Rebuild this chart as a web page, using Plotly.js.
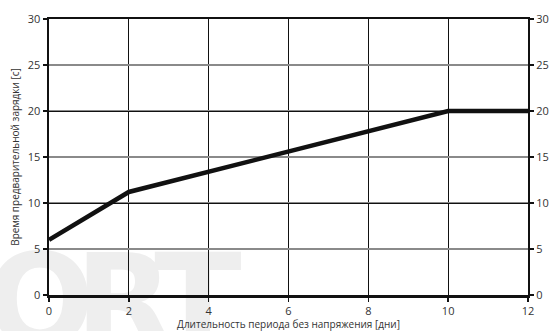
<!DOCTYPE html>
<html>
<head>
<meta charset="utf-8">
<script src="https://cdn.plot.ly/plotly-3.0.1.min.js"></script>
<style>html,body{margin:0;padding:0;background:#fff;}#chart{width:550px;height:331px;}</style>
</head>
<body>
<div id="chart"></div>
<script>
// Data
const xDays = [0, 2, 10, 12];
const yPrecharge = [6, 11.2, 20, 20];
const xTitle = 'Длительность периода без напряжения [дни]';
const yTitle = 'Время предварительной зарядки [с]';
const watermarkLetters = ['O', 'R', 'T'];

const svg = '<svg xmlns="http://www.w3.org/2000/svg" width="550" height="331">' +
  '<g font-family="DejaVu Sans" font-weight="bold" font-size="128" fill="#eeeeee">' +
  '<text x="40" y="345" text-anchor="middle">' + watermarkLetters[0] + '</text>' +
  '<text x="75" y="345">' + watermarkLetters[1] + '</text>' +
  '<text x="198" y="345" text-anchor="middle">' + watermarkLetters[2] + '</text>' +
  '</g></svg>';
const svgUri = 'data:image/svg+xml;base64,' + btoa(svg);

const font = {family: 'Open Sans, DejaVu Sans, sans-serif', size: 11, color: '#333'};

const traces = [
  {x: xDays, y: yPrecharge, type: 'scatter', mode: 'lines', line: {color: '#111', width: 4.5}, hoverinfo: 'skip', showlegend: false, yaxis: 'y'},
  {x: xDays, y: yPrecharge, type: 'scatter', mode: 'lines', opacity: 0, hoverinfo: 'skip', showlegend: false, yaxis: 'y2'},
  {x: xDays, y: yPrecharge, type: 'scatter', mode: 'lines', opacity: 0, hoverinfo: 'skip', showlegend: false, yaxis: 'y3'}
];

const layout = {
  width: 550, height: 331,
  margin: {l: 49, r: 22, t: 19, b: 36},
  paper_bgcolor: '#fff',
  plot_bgcolor: 'rgba(0,0,0,0)',
  font: font,
  showlegend: false,
  xaxis: {
    range: [0, 12], dtick: 2, tick0: 0,
    showline: true, linewidth: 2.5, linecolor: '#111', mirror: true,
    ticks: 'outside', ticklen: 4, tickwidth: 1.5, tickcolor: '#111',
    showgrid: true, gridcolor: '#111', gridwidth: 1,
    zeroline: false, fixedrange: true,
    tickfont: font,
    title: {text: xTitle, font: {family: font.family, size: 10, color: '#333'}, standoff: 5},
    automargin: false
  },
  yaxis: {
    range: [0, 30], dtick: 5, tick0: 0,
    showline: true, linewidth: 2.5, linecolor: '#111',
    ticks: 'outside', ticklen: 4, tickwidth: 1.5, tickcolor: '#111',
    showgrid: true, gridcolor: '#8a8a8a', gridwidth: 1.5,
    zeroline: false, fixedrange: true,
    tickfont: font,
    title: {text: yTitle, font: {family: font.family, size: 10, color: '#333'}, standoff: 6},
    automargin: false
  },
  yaxis2: {
    overlaying: 'y', side: 'right', anchor: 'x',
    range: [0, 30], dtick: 5, tick0: 0,
    showline: true, linewidth: 2, linecolor: '#111',
    ticks: 'outside', ticklen: 4, tickwidth: 1.5, tickcolor: '#111',
    showgrid: false, zeroline: false, fixedrange: true,
    tickfont: font, automargin: false
  },
  yaxis3: {
    overlaying: 'y', side: 'left', anchor: 'x',
    range: [0, 30], dtick: 10, tick0: 0,
    showline: false, ticks: '', showticklabels: false,
    showgrid: true, gridcolor: '#111', gridwidth: 1,
    zeroline: false, fixedrange: true, automargin: false
  },
  images: [{
    source: svgUri, xref: 'paper', yref: 'paper',
    x: -49/479, y: 1 + 19/276, sizex: 550/479, sizey: 331/276,
    xanchor: 'left', yanchor: 'top', sizing: 'stretch', layer: 'below'
  }]
};

Plotly.newPlot('chart', traces, layout, {displayModeBar: false, staticPlot: true});
</script>
</body>
</html>
